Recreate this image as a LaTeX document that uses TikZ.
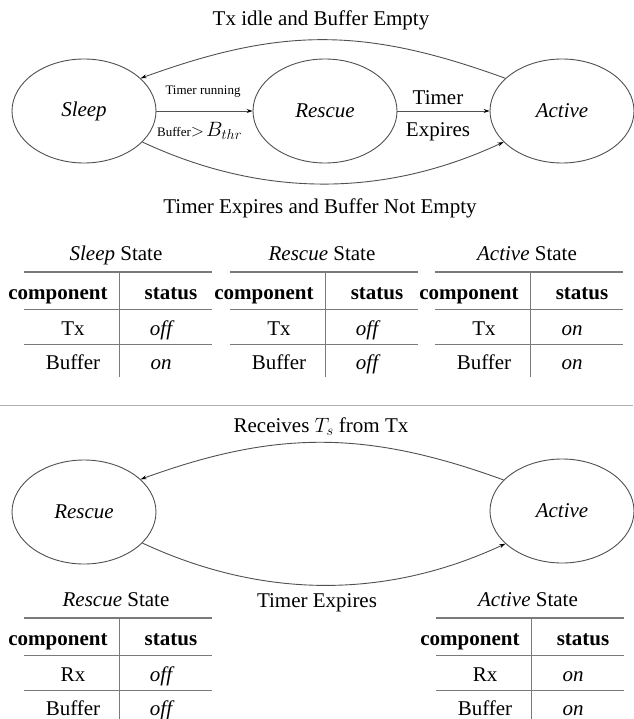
\documentclass[tikz,border=0pt]{standalone}
\usepackage{fontspec}
\setmainfont{Liberation Serif}
\usetikzlibrary{shapes.geometric,arrows.meta}
\definecolor{lc}{HTML}{505050}
\definecolor{rc}{HTML}{7A7A7A}
\definecolor{sepc}{HTML}{B0B0B0}
\newcommand\fbig{\fontsize{21}{25}\selectfont}
\newcommand\fsml{\fontsize{13}{15}\selectfont}
\newcommand\fmid{\fontsize{17}{20}\selectfont}
\tikzset{
  st/.style={ellipse,draw=lc,line width=0.9pt,minimum width=144pt,minimum height=104pt,inner sep=0pt,font=\fbig\itshape},
  lbl/.style={font=\fbig,inner sep=0pt},
  sml/.style={font=\fsml,inner sep=0pt},
  tb/.style={font=\fbig,inner sep=0pt,anchor=base},
  arr/.style={draw=lc,line width=0.9pt,-{Stealth[length=6pt,width=4pt,color=black]}},
  rulethick/.style={draw=rc,line width=1.8pt},
  rulethin/.style={draw=rc,line width=0.9pt},
  pics/ctab/.style n args={4}{code={
    \node[tb] (-title) at (92,12) {\textit{#1} State};
    \draw[rulethick] (0,0) -- (188,0);
    \node[tb,font=\fbig\bfseries] (-ch) at (34,-27) {component};
    \node[tb,font=\fbig\bfseries] (-sh) at (147,-27) {status};
    \draw[rulethin] (0,-37) -- (188,-37);
    \node[tb] (-c1) at (49,-63) {#2};
    \node[tb,font=\fbig\itshape] (-s1) at (137,-63) {#3};
    \draw[rulethin] (0,-72) -- (188,-72);
    \node[tb] (-c2) at (49,-97) {Buffer};
    \node[tb,font=\fbig\itshape] (-s2) at (137,-97) {#4};
    \draw[rulethin] (95,0) -- (95,-105);
  }}
}
\begin{document}
\begin{tikzpicture}[x=1pt,y=1pt]
\useasboundingbox (0,0) rectangle (633,-719);
% ---------- upper diagram ----------
\node[st] (sleep) at (84,-111) {Sleep};
\node[st] (rescue) at (325,-111) {Rescue};
\node[st] (active) at (562,-111) {Active};
\draw[arr] (sleep.east) -- (rescue.west);
\draw[arr] (rescue.east) -- (active.west);
\node[sml] (tr) at (203,-92) {Timer running};
\node[sml,anchor=west] (bt) at (157,-131) {Buffer{\fmid$>$}\,{\fbig$B_{thr}$}};
\node[lbl] (te1) at (438,-98) {Timer};
\node[lbl] (te2) at (438,-132) {Expires};
\node[lbl] (t1) at (321,-20) {Tx idle and Buffer Empty};
\node[lbl] (t2) at (320,-208) {Timer Expires and Buffer Not Empty};
\draw[arr] (active.150) .. controls +(160:150) and +(20:150) .. (sleep.30);
\draw[arr] (sleep.-28) .. controls +(-25:132) and +(205:132) .. (active.208);
% ---------- upper tables ----------
\pic (T1) at (24,-272) {ctab={Sleep}{Tx}{off}{on}};
\pic (T2) at (230,-272) {ctab={Rescue}{Tx}{off}{off}};
\pic (T3) at (435,-272) {ctab={Active}{Tx}{on}{on}};
% ---------- separator ----------
\draw[draw=sepc,line width=1pt] (0,-405) -- (633,-405);
% ---------- lower diagram ----------
\node[st] (rescue2) at (84,-512) {Rescue};
\node[st] (active2) at (562,-511) {Active};
\node[lbl] (t3) at (321,-427) {Receives $T_s$ from Tx};
\node[lbl] (t4) at (317,-603) {Timer Expires};
\draw[arr] (active2.152) .. controls +(160:145) and +(20:145) .. (rescue2.30);
\draw[arr] (rescue2.-28) .. controls +(-25:132) and +(205:132) .. (active2.210);
% ---------- lower tables ----------
\pic (T4) at (24,-618) {ctab={Rescue}{Rx}{off}{off}};
\pic (T5) at (436,-618) {ctab={Active}{Rx}{on}{on}};
\end{tikzpicture}
\end{document}
